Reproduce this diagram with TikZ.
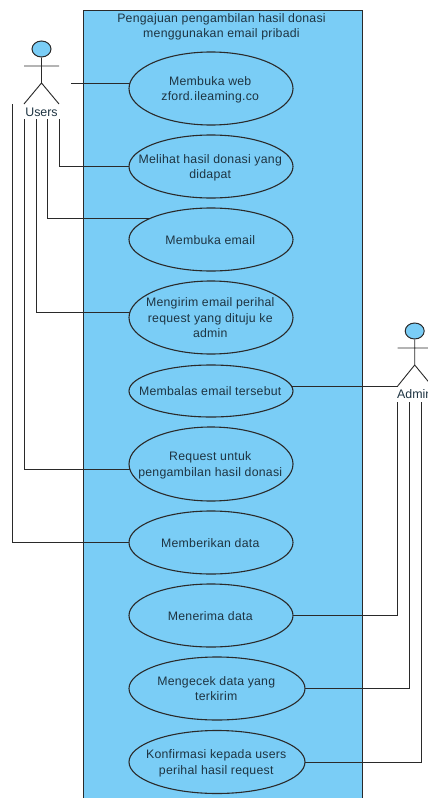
\documentclass[tikz,border=0pt]{standalone}
\usepackage{fontspec}
\setmainfont{Liberation Sans}
\usetikzlibrary{shapes.geometric,backgrounds}
\definecolor{ucblue}{HTML}{7ACDF6}
\definecolor{ucline}{HTML}{2A2A2A}
\definecolor{uctext}{HTML}{1E3442}
\newcommand{\uctxt}[1]{\makebox[0pt]{\raisebox{-4.5pt}[0pt][0pt]{\begin{tabular}{@{}c@{}}#1\end{tabular}}\hspace{1.5pt}}}
\tikzset{
  x=1pt,y=-1pt,
  usecase/.style={ellipse,draw=ucline,line width=1.1pt,fill=ucblue,inner sep=0pt,
    text=uctext,font=\fontsize{12.3}{15.5}\selectfont\addfontfeatures{LetterSpace=2},minimum width=164pt},
  link/.style={draw=ucline,line width=1pt},
  figure/.style={draw=ucline,line width=0.9pt},
  head/.style={ellipse,draw=ucline,line width=1pt,fill=ucblue,inner sep=0pt,minimum width=19pt,minimum height=16pt},
  actorname/.style={text=uctext,font=\fontsize{12.4}{14}\selectfont,inner sep=0pt},
  title/.style={text=uctext,font=\fontsize{12.3}{15.5}\selectfont\addfontfeatures{LetterSpace=2},align=center,inner sep=0pt}
}
\begin{document}
\begin{tikzpicture}
\useasboundingbox (0,0) rectangle (428,798);
\node[title] (ttl) at (221.5,27) {Pengajuan pengambilan hasil donasi\\menggunakan email pribadi};
\node[usecase,minimum height=73pt] (e1) at (211,88.5) {\uctxt{Membuka web\\zford.\kern1pt ileaming.co}};
\node[usecase,minimum height=63pt] (e2) at (211,166.5) {\uctxt{Melihat hasil donasi yang\\didapat}};
\node[usecase,minimum height=63pt] (e3) at (211,239.5) {\uctxt{Membuka email}};
\node[usecase,minimum height=73pt] (e4) at (211,317.5) {\uctxt{Mengirim email perihal\\request yang dituju ke\\admin}};
\node[usecase,minimum height=52pt] (e5) at (211,391) {\uctxt{Membalas email tersebut}};
\node[usecase,minimum height=74pt] (e6) at (211,464) {\uctxt{Request untuk\\pengambilan hasil donasi}};
\node[usecase,minimum height=63pt] (e7) at (211,542.5) {\uctxt{Memberikan data}};
\node[usecase,minimum height=63pt] (e8) at (211,615.5) {\uctxt{Menerima data}};
\node[usecase,minimum width=176pt,minimum height=63pt] (e9) at (217,688.5) {\uctxt{Mengecek data yang\\terkirim}};
\node[usecase,minimum width=176pt,minimum height=63pt] (e10) at (217,762) {\uctxt{Konfirmasi kepada users\\perihal hasil request}};
% Users actor
\node[head] (uh) at (41.5,49) {};
\coordinate (uhip) at (41.5,83);
\coordinate (ual) at (24,66);
\coordinate (uar) at (59,66);
\coordinate (ull) at (24,104);
\coordinate (ulr) at (59,104);
\draw[figure] (uh.south) -- (uhip) (ual) -- (uar) (ull) -- (uhip) -- (ulr);
\node[actorname] (un) at (41.5,112.5) {Users};
\coordinate (ua) at (71,83);
\coordinate (u2) at (59.3,119);
\coordinate (u3) at (47.7,119);
\coordinate (u4) at (36,119);
\coordinate (u6) at (24.3,119);
\coordinate (u7) at (12.7,104);
% Admin actor
\node[head] (ah) at (414.7,331) {};
\coordinate (ahip) at (414.7,365);
\coordinate (aal) at (397.7,348);
\coordinate (aar) at (432,348);
\coordinate (all) at (397.7,386);
\coordinate (alr) at (432,386);
\draw[figure] (ah.south) -- (ahip) (aal) -- (aar) (all) -- (ahip) -- (alr);
\node[actorname,anchor=west] (an) at (397,394.5) {Admin};
\coordinate (a8) at (397.7,402);
\coordinate (a9) at (409,402);
\coordinate (a10) at (421,402);
\begin{scope}[on background layer]
\path[draw=ucline,line width=1pt,fill=ucblue] (83,10) rectangle (362,815);
\draw[link] (ua) -- ([yshift=5.5pt]e1.center);
\draw[link] (u2) |- (e2.center);
\draw[link] (u3) |- ([yshift=20.8pt]e3.center);
\draw[link] (u4) |- ([yshift=4.8pt]e4.center);
\draw[link] (u6) |- ([yshift=-5.3pt]e6.center);
\draw[link] (u7) |- (e7.center);
\draw[link] ([yshift=5pt]e5.center) -- (e5.center |- all) -- (all);
\draw[link] (a8) |- (e8.center);
\draw[link] (a9) |- (e9.center);
\draw[link] (a10) |- (e10.center);
\end{scope}
\end{tikzpicture}
\end{document}
